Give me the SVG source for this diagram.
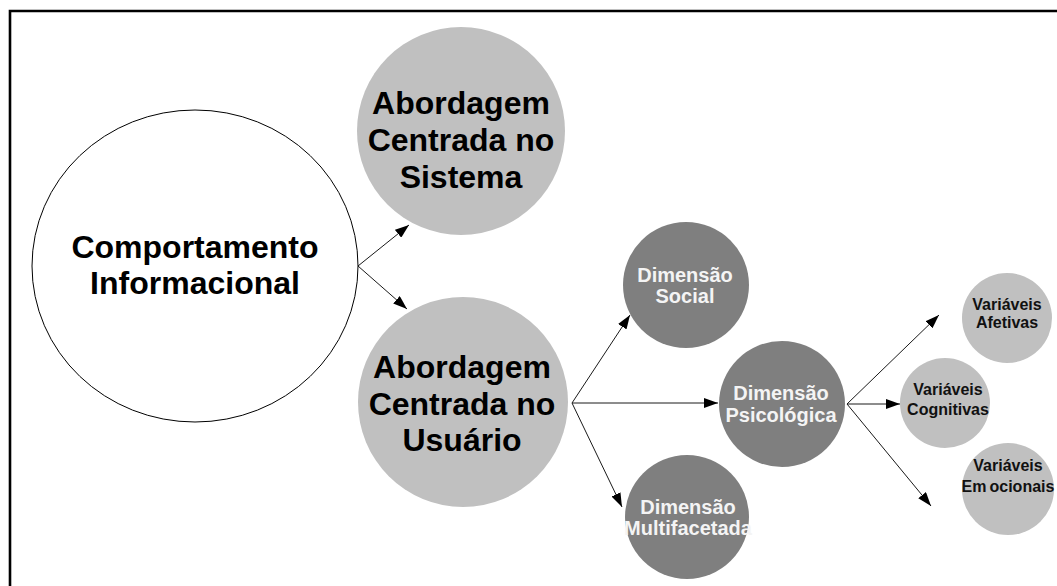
<svg xmlns="http://www.w3.org/2000/svg" width="1057" height="586" viewBox="0 0 1057 586">
<style>
.lt{fill:#c0c0c0}
.dk{fill:#7f7f7f}
.t{font-family:"Liberation Sans",Arial,sans-serif;font-weight:bold;text-anchor:middle}
.big{font-size:32px;fill:#000}
.mid{font-size:20px;fill:#f4f4f4}
.sm{font-size:16px;fill:#111}
.c{stroke:#1a1a1a;stroke-width:1;fill:none}
</style>
<defs>
<marker id="ah" viewBox="0 0 14 10" refX="14" refY="5" markerWidth="14" markerHeight="10" markerUnits="userSpaceOnUse" orient="auto">
<path d="M0,0 L14,5 L0,10 Z" fill="#000"/>
</marker>
</defs>
<rect width="1057" height="586" fill="#fff"/>
<path d="M10,586 V11 H1057" fill="none" stroke="#000" stroke-width="2.6"/>
<g id="connectors">
<line class="c" x1="358" y1="266" x2="409" y2="225" marker-end="url(#ah)"/>
<line class="c" x1="358" y1="266" x2="407" y2="309" marker-end="url(#ah)"/>
<line class="c" x1="572" y1="403" x2="630" y2="315" marker-end="url(#ah)"/>
<line class="c" x1="572" y1="403" x2="718" y2="403" marker-end="url(#ah)"/>
<line class="c" x1="572" y1="403" x2="622" y2="507" marker-end="url(#ah)"/>
<line class="c" x1="847" y1="404" x2="939" y2="315" marker-end="url(#ah)"/>
<line class="c" x1="847" y1="404" x2="900" y2="404" marker-end="url(#ah)"/>
<line class="c" x1="847" y1="404" x2="931" y2="506" marker-end="url(#ah)"/>
</g>
<g id="comportamento">
<ellipse cx="195" cy="266" rx="163" ry="156" fill="#fff" stroke="#000" stroke-width="1"/>
<text class="t big" x="195" y="258">Comportamento</text>
<text class="t big" x="195" y="294">Informacional</text>
</g>
<g id="sistema">
<circle class="lt" cx="461" cy="131" r="104"/>
<text class="t big" x="461" y="114">Abordagem</text>
<text class="t big" x="461" y="151">Centrada no</text>
<text class="t big" x="461" y="188">Sistema</text>
</g>
<g id="usuario">
<circle class="lt" cx="463" cy="402" r="105"/>
<text class="t big" x="462" y="378">Abordagem</text>
<text class="t big" x="462" y="415">Centrada no</text>
<text class="t big" x="462" y="451">Usuário</text>
</g>
<g id="social">
<circle class="dk" cx="686" cy="285" r="63"/>
<text class="t mid" x="685" y="282">Dimensão</text>
<text class="t mid" x="685" y="303">Social</text>
</g>
<g id="psicologica">
<circle class="dk" cx="782" cy="404" r="63"/>
<text class="t mid" x="781" y="400">Dimensão</text>
<text class="t mid" x="781" y="422">Psicológica</text>
</g>
<g id="multifacetada">
<circle class="dk" cx="687" cy="517" r="62"/>
<text class="t mid" x="688" y="514">Dimensão</text>
<text class="t mid" x="688" y="535">Multifacetada</text>
</g>
<g id="afetivas">
<circle class="lt" cx="1007" cy="318" r="45"/>
<text class="t sm" x="1007" y="310">Variáveis</text>
<text class="t sm" x="1007" y="328">Afetivas</text>
</g>
<g id="cognitivas">
<circle class="lt" cx="945" cy="403" r="45"/>
<text class="t sm" x="948" y="395">Variáveis</text>
<text class="t sm" x="948" y="415">Cognitivas</text>
</g>
<g id="emocionais">
<circle class="lt" cx="1008" cy="489" r="46"/>
<text class="t sm" x="1008" y="471">Variáveis</text>
<text class="t sm" x="1008" y="492"><tspan>Em</tspan><tspan dx="3">ocionais</tspan></text>
</g>
</svg>
